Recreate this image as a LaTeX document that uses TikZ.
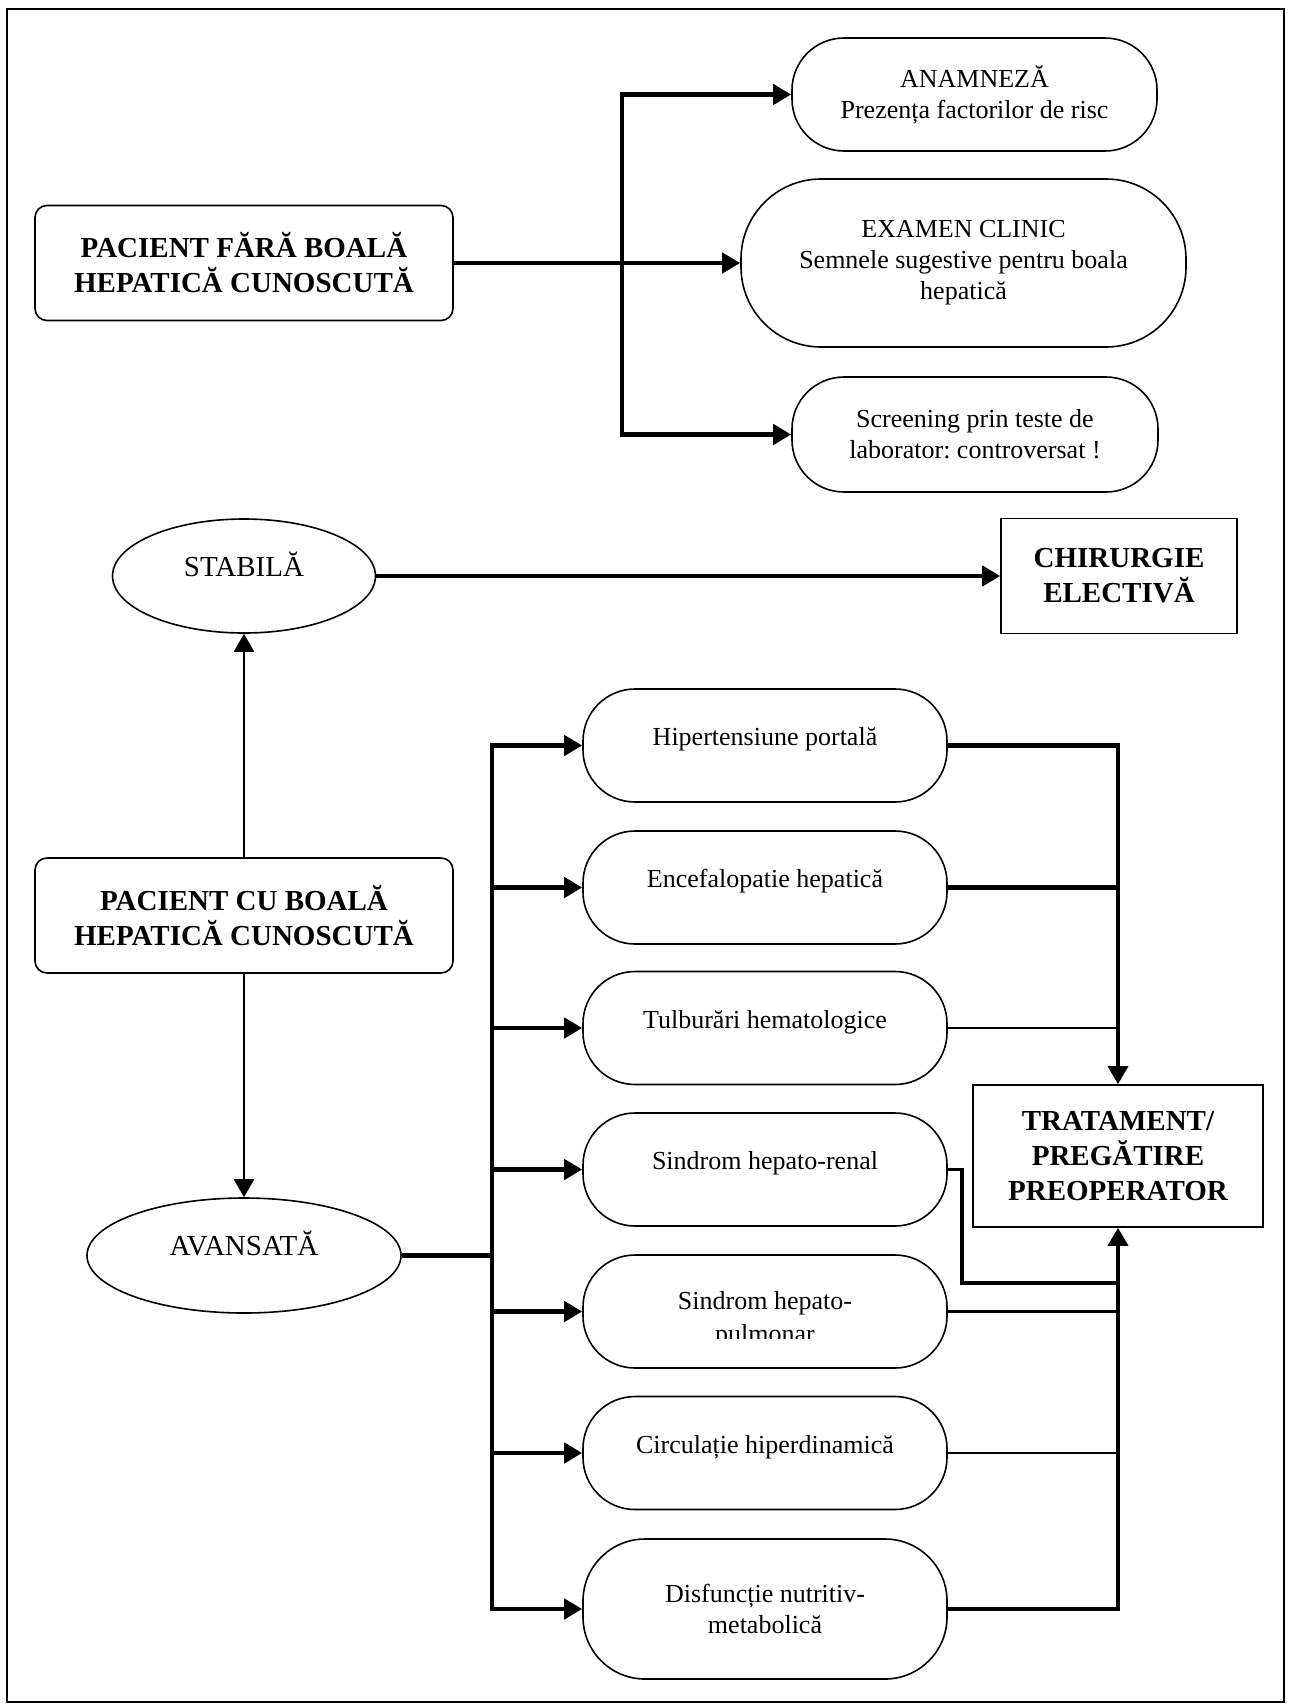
\documentclass[tikz,border=0pt]{standalone}
\usepackage{fontspec}
\setmainfont{Liberation Serif}
\usetikzlibrary{shapes.geometric,arrows.meta}
\frenchspacing
\begin{document}
\begin{tikzpicture}[x=1pt,y=-1pt,
  every node/.style={inner sep=0pt, align=center},
  txt/.style={font=\fontsize{26}{31}\selectfont},
  btxt/.style={font=\fontsize{29}{35}\selectfont\bfseries},
  rbox/.style={draw, line width=1.6pt, rounded corners=12pt, btxt, minimum width=418pt, minimum height=115pt},
  stad/.style={draw, line width=1.6pt, rounded corners=52pt, txt, minimum width=364pt, minimum height=113pt},
  oneline/.style={text height=20pt, text depth=20pt},
  oval/.style={draw, ellipse, line width=1.6pt, font=\fontsize{29}{34}\selectfont, oneline},
  sbox/.style={draw, line width=1.6pt, btxt},
  arr/.style={-{Triangle[length=18pt,width=20pt]}},
  wA/.style={line width=4.5pt},
  wB/.style={line width=3.4pt},
  wC/.style={line width=2.3pt},
]
\useasboundingbox (0,0) rectangle (1291,1708);
\draw[line width=1.8pt] (7,9) rectangle (1284,1702);

% ---------- top part ----------
\node[rbox] (F) at (244,263) {PACIENT FĂRĂ BOALĂ\\HEPATICĂ CUNOSCUTĂ};
\node[stad, minimum width=365pt] (anam) at (974.5,94.5) {ANAMNEZĂ\\Prezența factorilor de risc};
\node[stad, minimum width=445pt, minimum height=168pt, rounded corners=80pt] (exam) at (963.5,263) {EXAMEN CLINIC\\Semnele sugestive pentru boala\\hepatică};
\node[stad, minimum width=366pt, minimum height=115pt] (scr) at (975,434.5) {Screening prin teste de\\laborator: controversat !};
\coordinate (T) at (622,263);

\draw[wB, line cap=rect] (anam.west -| T) -- (scr.west -| T);
\draw[wA, arr] (F.east) -- (F.east -| exam.west);
\draw[wA, arr] ([xshift=-1.7pt]anam.west -| T) -- (anam.west);
\draw[wA, arr] ([xshift=-1.7pt]scr.west -| T) -- (scr.west);

% ---------- middle ----------
\node[oval, minimum width=263pt, minimum height=114pt] (stab) at (244,576) {STABILĂ};
\node[sbox, minimum width=236pt, minimum height=115pt] (chir) at (1119,576) {CHIRURGIE\\ELECTIVĂ};
\draw[wA, arr] (stab.east) -- (chir.west);

\node[rbox] (cu) at (244,915.5) {PACIENT CU BOALĂ\\HEPATICĂ CUNOSCUTĂ};
\node[oval, minimum width=314pt, minimum height=115pt] (av) at (244,1255.5) {AVANSATĂ};
\draw[wC, arr] (cu.north) -- (stab.south);
\draw[wC, arr] (cu.south) -- (av.north);

% ---------- complications ----------
\node[stad, oneline] (hip) at (765,745.5) {Hipertensiune portală};
\node[stad, oneline] (enc) at (765,887.5) {Encefalopatie hepatică};
\node[stad, oneline] (tul) at (765,1028) {Tulburări hematologice};
\node[stad, oneline] (ren) at (765,1169.5) {Sindrom hepato-renal};
\node[stad] (pul) at (765,1311.5) {};
\node[txt, anchor=base] (pulA) at (765,1309) {Sindrom hepato-};
\begin{scope}
  \clip (590,1250) rectangle (940,1338);
  \node[txt, anchor=base] (pulB) at (765,1342) {pulmonar};
\end{scope}
\node[stad, oneline] (cir) at (765,1453) {Circulație hiperdinamică};
\node[stad, minimum height=140pt, rounded corners=62pt] (dis) at (765,1609) {Disfuncție nutritiv-\\metabolică};

\node[sbox, minimum width=290pt, minimum height=142pt] (trat) at (1118,1156) {TRATAMENT/\\PREGĂTIRE\\PREOPERATOR};

\coordinate (L) at (492,745.5);
\coordinate (R) at (1118,745.5);
\coordinate (rk) at (962,1283);

\draw[wA] (av.east) -- (av.east -| L);
\draw[wB, line cap=rect] (hip.west -| L) -- (dis.west -| L);
\foreach \n in {hip,enc,tul,ren,pul,cir,dis}
  \draw[wA, arr] ([xshift=-1.7pt]\n.west -| L) -- (\n.west);

\draw[wA] (hip.east) -- ([xshift=1.8pt]hip.east -| R);
\draw[wA] (enc.east) -- (enc.east -| R);
\draw[wC] (tul.east) -- (tul.east -| R);
\draw[wB, line cap=rect] (ren.east) -| (rk) -- (rk -| R);
\draw[wB] (pul.east) -- (pul.east -| R);
\draw[wC] (cir.east) -- (cir.east -| R);
\draw[wA] (dis.east) -- ([xshift=1.8pt]dis.east -| R);

\draw[wB, arr] ([yshift=-2pt]hip.east -| R) -- (trat.north);
\draw[wB, arr] ([yshift=2pt]dis.east -| R) -- (trat.south);
\end{tikzpicture}
\end{document}
